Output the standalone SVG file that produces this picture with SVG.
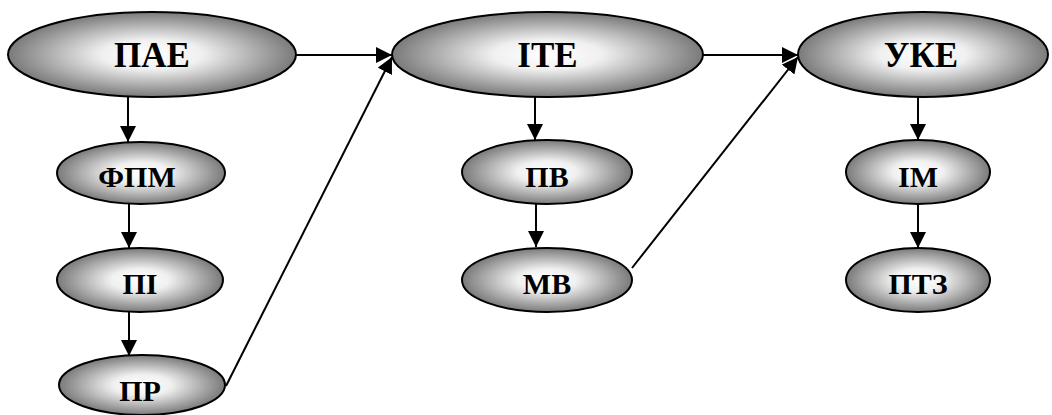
<svg xmlns="http://www.w3.org/2000/svg" width="1052" height="415" viewBox="0 0 1052 415">
<defs>
<radialGradient id="g" cx="50%" cy="50%" r="50%">
<stop offset="0" stop-color="#ffffff"/>
<stop offset="0.35" stop-color="#f0f0f0"/>
<stop offset="1" stop-color="#7a7a7a"/>
</radialGradient>
<marker id="a" viewBox="0 0 10 10" refX="10" refY="5" markerWidth="16" markerHeight="16" markerUnits="userSpaceOnUse" orient="auto">
<path d="M0,0 L10,5 L0,10 Z" fill="#000"/>
</marker>
<style>
.n ellipse{fill:url(#g);stroke:#000;stroke-width:2}
.n text{font-family:"Liberation Serif","Times New Roman",serif;font-weight:bold;text-anchor:middle;fill:#000}
.big text{font-size:35px}
.sm text{font-size:30px}
#edges line{stroke:#000;stroke-width:2;fill:none;marker-end:url(#a)}
</style>
</defs>
<g id="edges">
<line x1="128" y1="97" x2="128" y2="142"/>
<line x1="129" y1="204" x2="129" y2="248"/>
<line x1="129" y1="312" x2="129" y2="356"/>
<line x1="296" y1="55" x2="392" y2="55"/>
<line x1="226" y1="386" x2="392" y2="57"/>
<line x1="535" y1="97" x2="535" y2="140"/>
<line x1="536" y1="204" x2="536" y2="247"/>
<line x1="703" y1="55" x2="798" y2="55"/>
<line x1="632" y1="268" x2="798" y2="57"/>
<line x1="918" y1="97" x2="918" y2="140"/>
<line x1="918" y1="204" x2="918" y2="248"/>
</g>
<g id="n-pae" class="n big"><ellipse cx="152" cy="54.5" rx="144" ry="42.5"/><text x="152" y="67">ПАЕ</text></g>
<g id="n-ite" class="n big"><ellipse cx="547.5" cy="54.5" rx="155.5" ry="42.5"/><text x="547.5" y="67">ІТЕ</text></g>
<g id="n-uke" class="n big"><ellipse cx="923" cy="54.5" rx="125" ry="42.5"/><text x="921" y="67">УКЕ</text></g>
<g id="n-fpm" class="n sm"><ellipse cx="141" cy="173" rx="84" ry="31"/><text x="137" y="187">ФПМ</text></g>
<g id="n-pi" class="n sm"><ellipse cx="140" cy="280" rx="83" ry="32"/><text x="140" y="294">ПІ</text></g>
<g id="n-pr" class="n sm"><ellipse cx="142" cy="385" rx="83" ry="30"/><text x="140" y="401">ПР</text></g>
<g id="n-pv" class="n sm"><ellipse cx="547" cy="172" rx="85" ry="32"/><text x="547" y="187">ПВ</text></g>
<g id="n-mv" class="n sm"><ellipse cx="547" cy="280" rx="85" ry="32"/><text x="547" y="294">МВ</text></g>
<g id="n-im" class="n sm"><ellipse cx="918" cy="172" rx="72" ry="32"/><text x="918" y="187">ІМ</text></g>
<g id="n-ptz" class="n sm"><ellipse cx="918" cy="280" rx="72" ry="32"/><text x="918" y="294">ПТЗ</text></g>
</svg>
